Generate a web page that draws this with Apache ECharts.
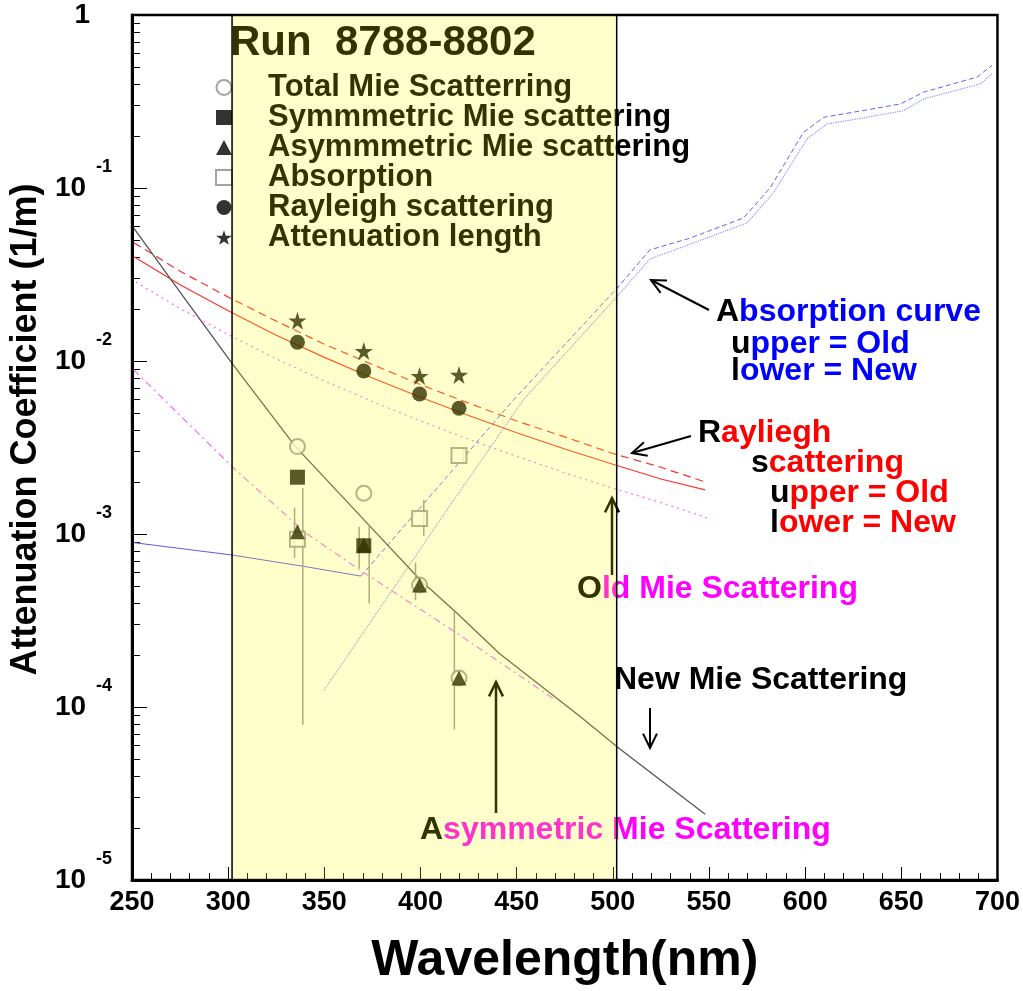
<!DOCTYPE html>
<html><head><meta charset="utf-8">
<script src="https://cdn.jsdelivr.net/npm/echarts@6/dist/echarts.min.js"></script>
<style>html,body{margin:0;padding:0;background:#fff}#c{width:1023px;height:991px}</style>
</head><body><div id="c"></div>
<script>
const FONT = '"Liberation Sans", Arial, Helvetica, sans-serif';

// ---------- data ----------
const xTicks = [250, 300, 350, 400, 450, 500, 550, 600, 650, 700];
const yDecades = [1e-5, 1e-4, 1e-3, 1e-2, 1e-1, 1];
const yMinor = [];
[1e-5, 1e-4, 1e-3, 1e-2, 1e-1].forEach(d => { for (let k = 2; k <= 9; k++) yMinor.push(d * k); });
const boxRange = [302, 502];

const pointWl = [336, 370.5, 399.5, 420];
const totalMie = [0.0032, 0.00172, 0.000507, 0.000147];
const symMie = [0.00213, 0.000855, null, null];
const asymMie = [0.00103, 0.00086, 0.000507, 0.000147];
const absorption = [0.000932, null, 0.00123, 0.00284];
const rayleigh = [0.01283, 0.00875, 0.00645, 0.00533];
const attenuation = [0.0171, 0.01142, 0.00819, 0.0083];

// error bars: [wavelength, low, high]
const symMieErr = [[338.8, 7.9e-5, 0.00185], [373.3, 0.000397, 0.00113]];
const asymMieErr = [[334.5, 0.000727, 0.00142], [368.1, 0.000634, 0.0011], [397.4, 0.000415, 0.000683], [417.6, 7.4e-5, 0.000356]];
const absErr = [[401.7, 0.000978, 0.00157], [422.4, 0.00257, 0.00314]];

// curves
const newMieWl = [251, 276, 302, 335, 370.5, 400, 419, 441, 483, 503, 548];
const newMie = [0.0585, 0.0241, 0.0097, 0.0032, 0.00121, 0.00054, 0.000348, 0.000204, 8.8e-5, 5.8e-5, 2.4e-5];

const rayWl = [251, 275, 300, 325, 350, 375, 400, 425, 450, 475, 500, 525, 548];
const rayNew = [0.0401, 0.0276, 0.0195, 0.0141, 0.0105, 0.00798, 0.00617, 0.00484, 0.00385, 0.0031, 0.00253, 0.00208, 0.0018];
const rayOld = [0.0483, 0.0330, 0.0234, 0.0170, 0.0125, 0.00954, 0.0073, 0.00571, 0.0045, 0.00364, 0.00292, 0.00243, 0.002];

const oldMieUpWl = [252, 275, 300, 325, 350, 375, 400, 425, 450, 475, 500, 525, 549];
const oldMieUp = [0.0286, 0.0201, 0.01423, 0.0103, 0.00768, 0.00583, 0.0045, 0.00353, 0.00281, 0.00226, 0.00184, 0.00152, 0.00124];
const oldMieLowWl = [251, 302, 340.5, 371, 419, 470];
const oldMieLow = [0.00887, 0.00245, 0.00101, 0.000593, 0.000267, 0.00011];

const absOldFlatWl = [251, 302, 340, 369];
const absOldFlat = [0.000891, 0.000756, 0.000648, 0.000571];
const absOldWl = [369, 448.3, 502, 519.3, 540.1, 567.9, 581.8, 599.1, 609.6, 632.1, 649.5, 661.6, 689.4, 697.2];
const absOld = [0.000571, 0.00595, 0.0262, 0.0439, 0.0513, 0.0671, 0.1002, 0.2096, 0.2563, 0.2828, 0.306, 0.358, 0.438, 0.512];
const absNewWl = [349.8, 413.8, 453.4, 502.8, 519.3, 540.1, 569.7, 583.5, 600.9, 611.3, 632.1, 651.2, 661.6, 691.2, 697.2];
const absNew = [0.000125, 0.00138, 0.00595, 0.024, 0.0389, 0.0473, 0.0628, 0.0938, 0.1918, 0.2344, 0.2563, 0.28, 0.327, 0.40, 0.458];

// ---------- helpers ----------
const zip = (xs, ys) => xs.map((x, i) => [x, ys[i]]).filter(p => p[1] != null);
const STAR = 'path://M50,0 L61.8,35.1 L100,35.1 L69.1,56.7 L80.9,91.9 L50,70.2 L19.1,91.9 L30.9,56.7 L0,35.1 L38.2,35.1 Z';

function errRender(params, api) {
  const x = api.value(0), lo = api.value(1), hi = api.value(2);
  const p1 = api.coord([x, lo]), p2 = api.coord([x, hi]);
  return { type: 'line', shape: { x1: p1[0], y1: p1[1], x2: p2[0], y2: p2[1] },
           style: { stroke: '#9a9a9a', lineWidth: 1.5 } };
}
function errSeries(data) {
  return { type: 'custom', renderItem: errRender, data: data, encode: { x: 0, y: [1, 2] }, z: 2, silent: true };
}
function curve(xs, ys, color, type, width) {
  return { type: 'line', data: zip(xs, ys), showSymbol: false, symbol: 'none', silent: true, z: 1,
           lineStyle: { color: color, width: width || 1, type: type || 'solid' } };
}
function scatter(name, ys, symbol, color, size, border) {
  return { name: name, type: 'scatter', data: zip(pointWl, ys), symbol: symbol, symbolSize: size,
           itemStyle: { color: color, borderColor: color, borderWidth: border || 0 }, z: 3, silent: true };
}

const chart = echarts.init(document.getElementById('c'), null, { renderer: 'canvas' });

const labelRich = {
  b: { fontFamily: FONT, fontSize: 28, fontWeight: 'bold', color: '#000', padding: [20, 0, 20, 0] },
  s: { fontFamily: FONT, fontSize: 18, fontWeight: 'bold', color: '#000', verticalAlign: 'top', padding: [4, 0, 0, 10] },
  one: { fontFamily: FONT, fontSize: 28, fontWeight: 'bold', color: '#000', padding: [0, 22, 0, 0] }
};

function arrow(tail, tip, width, color) {
  const dx = tip[0] - tail[0], dy = tip[1] - tail[1];
  const L = Math.hypot(dx, dy), ux = dx / L, uy = dy / L;
  const h = 16, a = 0.45;
  const c = Math.cos(a), s = Math.sin(a);
  const l1 = [tip[0] - h * (ux * c - uy * s), tip[1] - h * (uy * c + ux * s)];
  const l2 = [tip[0] - h * (ux * c + uy * s), tip[1] - h * (uy * c - ux * s)];
  return [
    { type: 'polyline', z: 10, silent: true, shape: { points: [tail, tip] }, style: { stroke: color || '#000', lineWidth: width || 2, fill: null } },
    { type: 'polyline', z: 10, silent: true, shape: { points: [l1, tip, l2] }, style: { stroke: color || '#000', lineWidth: width || 2, fill: null } }
  ];
}
const annFont = 32;
const annRich = {
  k: { fontFamily: FONT, fontSize: annFont, fontWeight: 'bold', fill: '#000' },
  b: { fontFamily: FONT, fontSize: annFont, fontWeight: 'bold', fill: '#0000ff' },
  r: { fontFamily: FONT, fontSize: annFont, fontWeight: 'bold', fill: '#ff0000' },
  m: { fontFamily: FONT, fontSize: annFont, fontWeight: 'bold', fill: '#ff00ff' }
};
function label(text, x, y) {
  return { type: 'text', x: x, y: y, z: 10, silent: true,
           style: { text: text, rich: annRich, verticalAlign: 'middle', align: 'left',
                    fontFamily: FONT, fontSize: annFont, fontWeight: 'bold', fill: '#000' } };
}

const graphics = [
  label('{k|A}{b|bsorption curve}', 716, 312),
  label('{k|u}{b|pper = Old}', 731, 344),
  label('{k|l}{b|ower = New}', 731, 371),
  label('{k|R}{r|ayliegh}', 698, 433),
  label('{k|s}{r|cattering}', 751, 463),
  label('{k|u}{r|pper = Old}', 770, 493),
  label('{k|l}{r|ower = New}', 770, 523),
  label('{k|O}{m|ld Mie Scattering}', 577, 589),
  label('{k|New Mie Scattering}', 614, 680),
  label('{k|A}{m|symmetric Mie Scattering}', 420, 830)
].concat(
  arrow([709, 310], [651, 280], 2),
  arrow([691, 436], [632, 453], 2),
  arrow([612, 575], [612, 498], 2.5),
  arrow([650, 708], [650, 748], 2),
  arrow([496, 813], [496, 682], 2.5)
);

const option = {
  backgroundColor: '#fff',
  animation: false,
  grid: { left: 130, right: 23, top: 15, bottom: 111, show: true, borderColor: '#000', borderWidth: 2.5, backgroundColor: 'transparent' },
  title: { text: 'Run  8788-8802', left: 230, top: 22, padding: 0, z: 6,
           textStyle: { fontFamily: FONT, fontSize: 42, fontWeight: 'bold', color: '#000' } },
  legend: {
    orient: 'vertical', left: 215, top: 72, padding: 0, itemGap: -1, itemWidth: 16, itemHeight: 15,
    selectedMode: false, z: 6,
    textStyle: { fontFamily: FONT, fontSize: 31, fontWeight: 'bold', color: '#000', lineHeight: 30, padding: [0, 0, 0, 31] },
    data: [
      { name: 'Total Mie Scatterring', icon: 'emptyCircle' },
      { name: 'Symmmetric Mie scattering', icon: 'rect' },
      { name: 'Asymmmetric Mie scattering', icon: 'triangle' },
      { name: 'Absorption', icon: 'emptyRect' },
      { name: 'Rayleigh scattering', icon: 'circle' },
      { name: 'Attenuation length', icon: STAR }
    ]
  },
  xAxis: {
    type: 'value', min: 250, max: 700, interval: 50,
    name: 'Wavelength(nm)', nameLocation: 'middle', nameGap: 56,
    nameTextStyle: { fontFamily: FONT, fontSize: 50, fontWeight: 'bold', color: '#000' },
    axisLine: { show: true, lineStyle: { color: '#000', width: 3 } },
    axisTick: { show: true, inside: true, length: 13, lineStyle: { color: '#000', width: 1 } },
    minorTick: { show: true, splitNumber: 5, length: 7, lineStyle: { color: '#000', width: 1 } },
    splitLine: { show: false },
    axisLabel: { fontFamily: FONT, fontSize: 27, fontWeight: 'bold', color: '#000', margin: 9,
                 customValues: xTicks }
  },
  yAxis: [{
    type: 'log', logBase: 10, min: 1e-5, max: 1,
    name: 'Attenuation Coefficient (1/m)', nameLocation: 'middle', nameGap: 80,
    nameTextStyle: { fontFamily: FONT, fontSize: 36, fontWeight: 'bold', color: '#000', padding: [0, 0, 0, 36] },
    axisLine: { show: true, lineStyle: { color: '#000', width: 3 } },
    axisTick: { show: true, inside: true, length: 15, lineStyle: { color: '#000', width: 1 }, customValues: yDecades },
    splitLine: { show: false },
    axisLabel: {
      margin: 20, customValues: yDecades, rich: labelRich,
      formatter: function (v) {
        const e = Math.round(Math.log10(v));
        return e === 0 ? '{one|1}' : '{b|10}{s|' + e + '}';
      }
    }
  }, {
    type: 'log', logBase: 10, min: 1e-5, max: 1, position: 'left', offset: 0,
    axisLine: { show: false },
    axisTick: { show: true, inside: true, length: 8, lineStyle: { color: '#000', width: 1 }, customValues: yMinor },
    axisLabel: { show: false }, splitLine: { show: false }
  }],
  series: [
    curve(absOldFlatWl, absOldFlat, '#5a5ae8', 'solid', 1),
    curve(absOldWl, absOld, '#6060ff', [5, 3], 1),
    curve(absNewWl, absNew, '#8f8fff', 'dotted', 1.2),
    curve(oldMieUpWl, oldMieUp, '#ff66ff', [2, 4], 1.2),
    curve(oldMieLowWl, oldMieLow, '#ff66ff', [7, 4, 2, 4], 1.2),
    curve(rayWl, rayOld, '#ff3030', [8, 5], 1.2),
    curve(rayWl, rayNew, '#ff3030', 'solid', 1.2),
    curve(newMieWl, newMie, '#555555', 'solid', 1.3),
    errSeries(symMieErr),
    errSeries(asymMieErr),
    errSeries(absErr),
    scatter('Absorption', absorption, 'emptyRect', '#8c8c8c', 15, 1.3),
    scatter('Total Mie Scatterring', totalMie, 'emptyCircle', '#8c8c8c', 15, 1.3),
    scatter('Symmmetric Mie scattering', symMie, 'rect', '#000', 15),
    scatter('Asymmmetric Mie scattering', asymMie, 'triangle', '#000', 15),
    scatter('Rayleigh scattering', rayleigh, 'circle', '#000', 15),
    scatter('Attenuation length', attenuation, STAR, '#000', 18),
    {
      type: 'line', data: [], silent: true, z: 100,
      markArea: {
        silent: true, z: 100,
        itemStyle: { color: 'rgba(255,255,0,0.2)', borderColor: '#000', borderWidth: 1.5 },
        label: { show: false },
        data: [[{ xAxis: boxRange[0] }, { xAxis: boxRange[1] }]]
      }
    }
  ],
  graphic: graphics
};
chart.setOption(option);
</script></body></html>
